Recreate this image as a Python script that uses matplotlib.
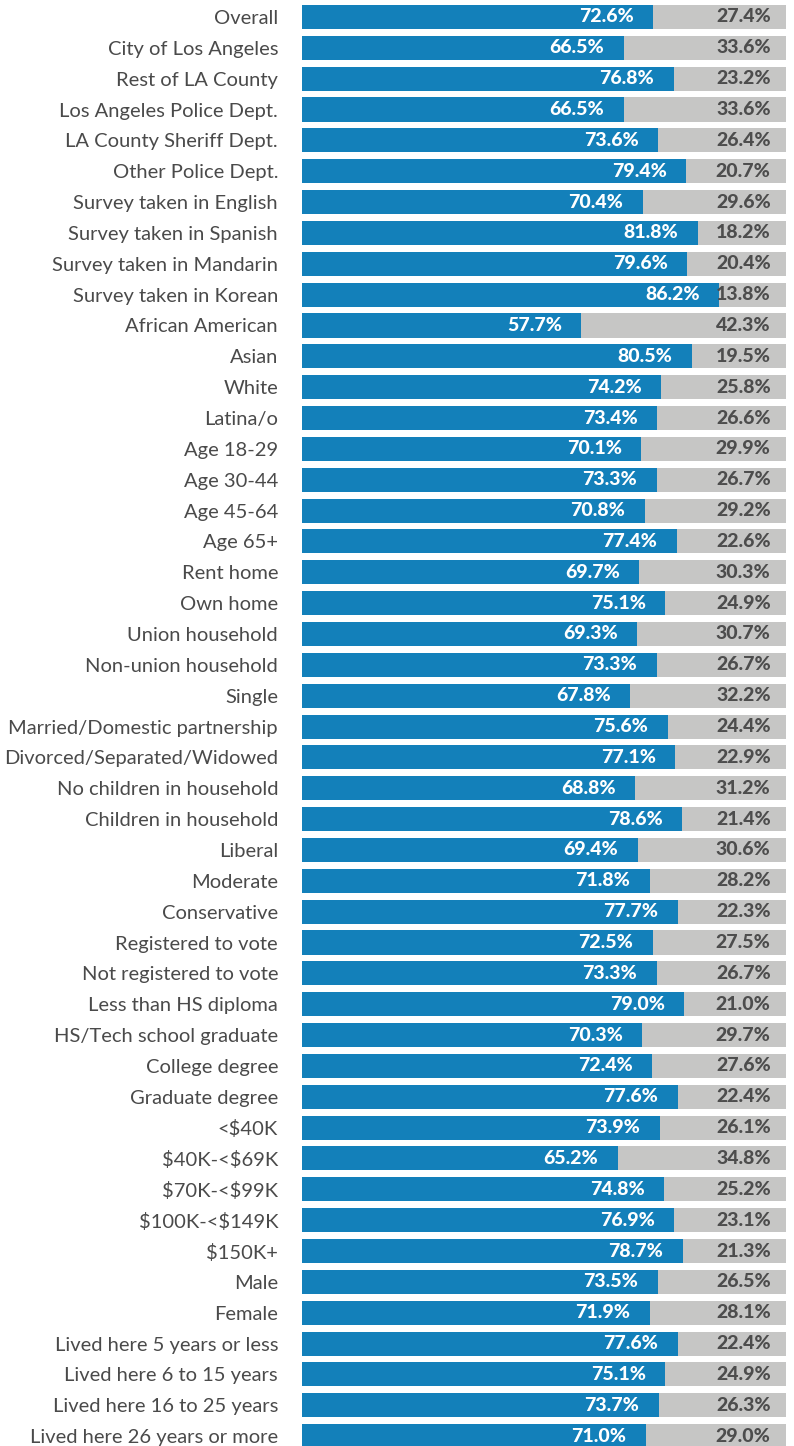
import matplotlib

matplotlib.use("Agg")
import matplotlib.pyplot as plt

plt.rcParams["text.parse_math"] = False  # "$40K" labels are plain text

categories = [
    "Overall", "City of Los Angeles", "Rest of LA County",
    "Los Angeles Police Dept.", "LA County Sheriff Dept.", "Other Police Dept.",
    "Survey taken in English", "Survey taken in Spanish", "Survey taken in Mandarin",
    "Survey taken in Korean", "African American", "Asian", "White", "Latina/o",
    "Age 18-29", "Age 30-44", "Age 45-64", "Age 65+", "Rent home", "Own home",
    "Union household", "Non-union household", "Single",
    "Married/Domestic partnership", "Divorced/Separated/Widowed",
    "No children in household", "Children in household", "Liberal", "Moderate",
    "Conservative", "Registered to vote", "Not registered to vote",
    "Less than HS diploma", "HS/Tech school graduate", "College degree",
    "Graduate degree", "<$40K", "$40K-<$69K", "$70K-<$99K", "$100K-<$149K",
    "$150K+", "Male", "Female", "Lived here 5 years or less",
    "Lived here 6 to 15 years", "Lived here 16 to 25 years",
    "Lived here 26 years or more",
]
yes_pct = [
    72.6, 66.5, 76.8, 66.5, 73.6, 79.4, 70.4, 81.8, 79.6, 86.2, 57.7, 80.5,
    74.2, 73.4, 70.1, 73.3, 70.8, 77.4, 69.7, 75.1, 69.3, 73.3, 67.8, 75.6,
    77.1, 68.8, 78.6, 69.4, 71.8, 77.7, 72.5, 73.3, 79.0, 70.3, 72.4, 77.6,
    73.9, 65.2, 74.8, 76.9, 78.7, 73.5, 71.9, 77.6, 75.1, 73.7, 71.0,
]
no_pct = [
    27.4, 33.6, 23.2, 33.6, 26.4, 20.7, 29.6, 18.2, 20.4, 13.8, 42.3, 19.5,
    25.8, 26.6, 29.9, 26.7, 29.2, 22.6, 30.3, 24.9, 30.7, 26.7, 32.2, 24.4,
    22.9, 31.2, 21.4, 30.6, 28.2, 22.3, 27.5, 26.7, 21.0, 29.7, 27.6, 22.4,
    26.1, 34.8, 25.2, 23.1, 21.3, 26.5, 28.1, 22.4, 24.9, 26.3, 29.0,
]

BLUE = "#1380ba"
GREY = "#c6c6c5"

fig = plt.figure(figsize=(7.94, 14.46), dpi=100)
ax = fig.add_axes([302 / 794, 0, 484 / 794, 1])

y = range(len(categories))
ax.barh(y, yes_pct, height=0.78, color=BLUE)
ax.barh(y, no_pct, left=yes_pct, height=0.78, color=GREY)

ax.set_xlim(0, 100)
ax.set_ylim(46.32, -0.55)

for i, (yv, nv) in enumerate(zip(yes_pct, no_pct)):
    ax.annotate(f"{yv:.1f}%", (yv, i), xytext=(-14, 0), textcoords="offset points",
                ha="right", va="center", color="white", fontsize=14,
                family="Lato", fontweight="black")
    ax.annotate(f"{nv:.1f}%", (100, i), xytext=(-11, 0), textcoords="offset points",
                ha="right", va="center", color="#4d4d4d", fontsize=14,
                family="Lato", fontweight="black")

ax.set_yticks(list(y))
ax.set_yticklabels(categories, fontsize=14.5, family="Lato", fontweight="normal",
                   color="#4a4a4a")
ax.tick_params(axis="y", length=0, pad=24 / 1.389)
ax.set_xticks([])
for s in ax.spines.values():
    s.set_visible(False)

fig.savefig("out.png", dpi=100)
